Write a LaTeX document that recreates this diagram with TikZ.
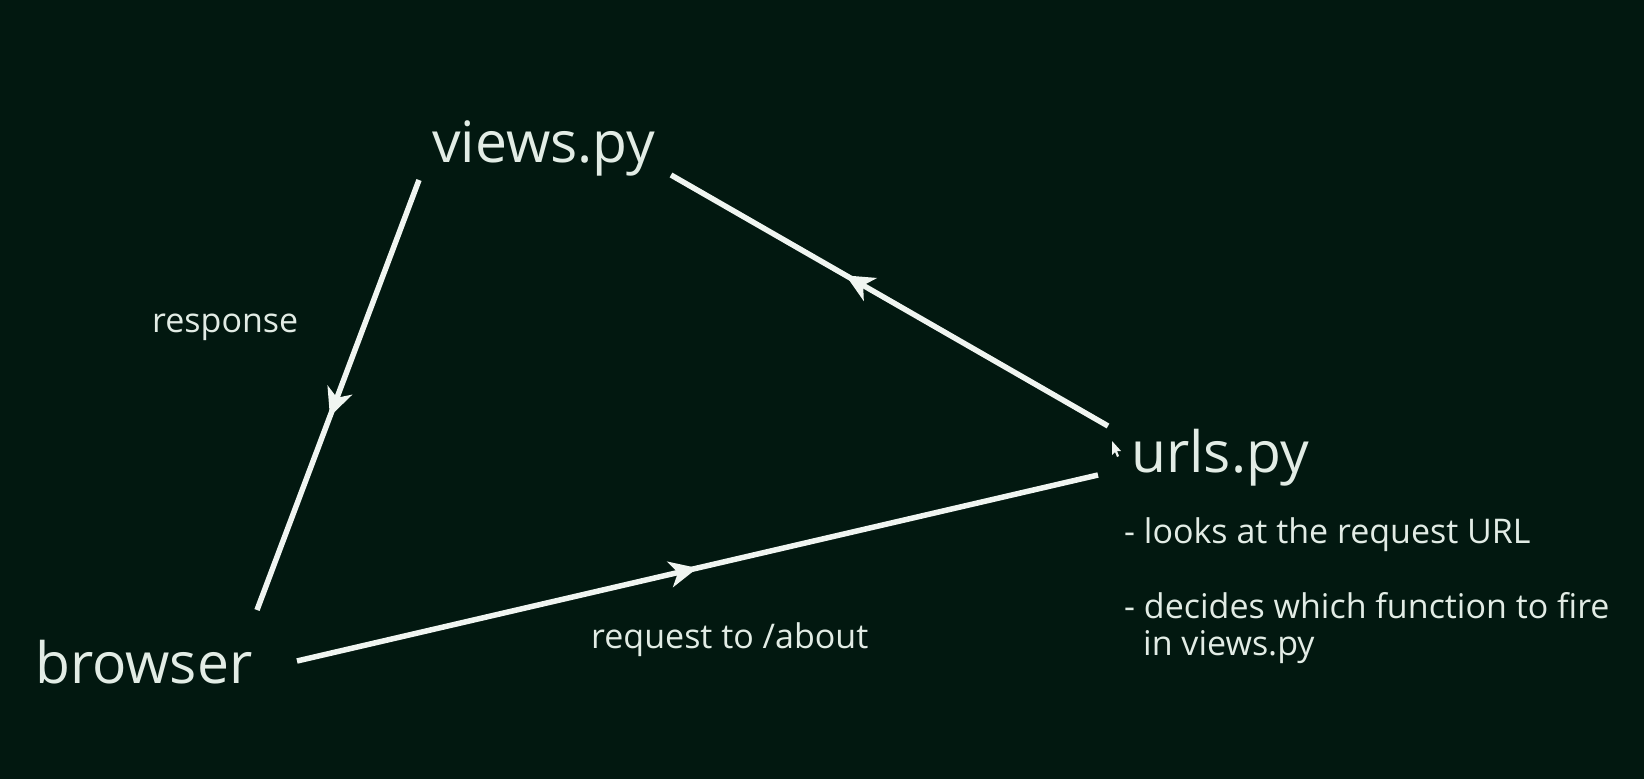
\documentclass[tikz,border=0pt]{standalone}
\usepackage{fontspec}
\setmainfont{Open Sans}
\usetikzlibrary{arrows.meta,decorations.markings}
\definecolor{bgc}{RGB}{2,24,16}
\definecolor{txt}{RGB}{226,236,229}
\definecolor{lin}{RGB}{240,245,241}
\tikzset{
  lbl/.style={text=txt, inner sep=0pt, anchor=base west},
  big/.style={lbl, font=\fontsize{57}{60}\selectfont},
  small/.style={lbl, font=\fontsize{34}{38}\selectfont},
  conn/.style={draw=lin, line width=5.5pt, line cap=butt,
    postaction={decorate}},
  midarrow/.style={decoration={markings,
    mark=at position #1 with {\arrow{Stealth[length=28pt,width=26pt,inset=8pt]}}}}
}
\begin{document}
\begin{tikzpicture}[x=1pt,y=-1pt]
\fill[bgc] (0,0) rectangle (1644,779);
\useasboundingbox (0,0) rectangle (1644,779);
% text nodes
\node[big] (views) at (432,162) {views.py};
\node[big] (urls) at (1131,472) {urls.py};
\node[big] (browser) at (35,683) {browser};
\node[small] (resp) at (152,332) {response};
\node[small] (req) at (591,648) {request to /about};
\node[small] (n1) at (1124,543) {- looks at the request URL};
\node[small] (n2) at (1124,618) {- decides which function to fire};
\node[small] (n3) at (1143,655) {in views.py};
% connector ends
\coordinate (vA) at (419,180);
\coordinate (bA) at (257,610);
\coordinate (vB) at (671,175);
\coordinate (uB) at (1108,426);
\coordinate (bC) at (297,661);
\coordinate (uC) at (1098,475);
% connectors
\draw[conn, midarrow=0.55] (vA) -- (bA);
\draw[conn, midarrow=0.6] (uB) -- (vB);
\draw[conn, midarrow=0.5] (bC) -- (uC);
% mouse pointer
\fill[lin] (1112,441) -- (1112,455) -- (1115,452) -- (1117,457) -- (1119,456) -- (1117,451) -- (1121,451) -- cycle;
\end{tikzpicture}
\end{document}
